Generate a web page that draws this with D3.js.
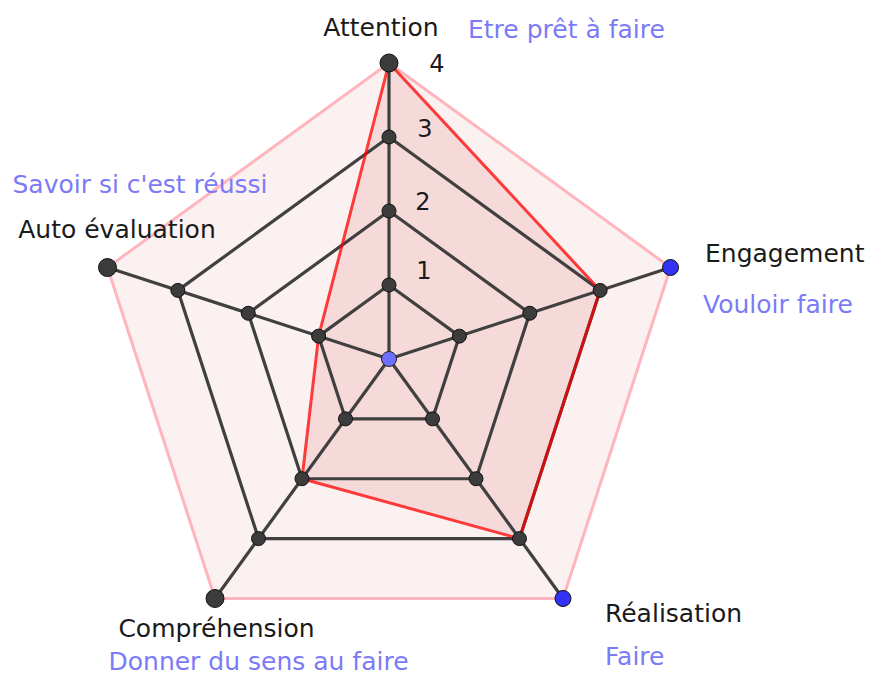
<!DOCTYPE html>
<html>
<head>
<meta charset="utf-8">
<script src="https://cdn.jsdelivr.net/npm/d3@7"></script>
<style>
  html, body { margin: 0; padding: 0; background: #ffffff; }
  svg { display: block; }
  text { font-family: "DejaVu Sans", sans-serif; }
</style>
</head>
<body>
<svg id="chart" width="869" height="679"></svg>
<script>
// ---- data ----
const axes = ["Attention", "Engagement", "Réalisation", "Compréhension", "Auto évaluation"];
const subtitles = ["Etre prêt à faire", "Vouloir faire", "Faire", "Donner du sens au faire", "Savoir si c'est réussi"];
const values = [4, 3, 3, 2, 1];
const levels = [1, 2, 3, 4];
const tickLabels = ["1", "2", "3", "4"];
const blueOuter = [false, true, true, false, false];

// ---- layout ----
const W = 869, H = 679;
const cx = 389, cy = 359;
const maxR = 296;
const r = d3.scaleLinear().domain([0, 4]).range([0, maxR]);
const angle = d3.scaleLinear().domain([0, axes.length]).range([-Math.PI / 2, 1.5 * Math.PI]);

function pt(i, v) {
  const a = angle(i);
  return [cx + r(v) * Math.cos(a), cy + r(v) * Math.sin(a)];
}

const svg = d3.select("#chart");
const line = d3.line().curve(d3.curveLinearClosed);

// outer pentagon (level 4)
svg.append("path")
  .attr("d", line(axes.map((_, i) => pt(i, 4))))
  .attr("fill", "#fbf1f1")
  .attr("stroke", "#ffb5be")
  .attr("stroke-width", 3)
  .attr("stroke-linejoin", "round");

// data area fill
svg.append("path")
  .attr("d", line(values.map((v, i) => pt(i, v))))
  .attr("fill", "#dc3c3c")
  .attr("fill-opacity", 0.13)
  .attr("stroke", "none");

// inner grid levels
svg.append("g").selectAll("path")
  .data(levels.filter(l => l < 4))
  .join("path")
  .attr("d", l => line(axes.map((_, i) => pt(i, l))))
  .attr("fill", "none")
  .attr("stroke", "#404040")
  .attr("stroke-width", 3.2)
  .attr("stroke-linejoin", "round");

// spokes
svg.append("g").selectAll("line")
  .data(axes)
  .join("line")
  .attr("x1", cx).attr("y1", cy)
  .attr("x2", (_, i) => pt(i, 4)[0])
  .attr("y2", (_, i) => pt(i, 4)[1])
  .attr("stroke", "#404040")
  .attr("stroke-width", 3.2);

// data outline
svg.append("path")
  .attr("d", line(values.map((v, i) => pt(i, v))))
  .attr("fill", "none")
  .attr("stroke", "#ff0000")
  .attr("stroke-opacity", 0.75)
  .attr("stroke-width", 3)
  .attr("stroke-linejoin", "round");

// grid points
const pts = [];
axes.forEach((_, i) => levels.forEach(l => pts.push({ i, l })));
svg.append("g").selectAll("circle")
  .data(pts)
  .join("circle")
  .attr("cx", d => pt(d.i, d.l)[0])
  .attr("cy", d => pt(d.i, d.l)[1])
  .attr("r", d => d.l === 4 ? (blueOuter[d.i] ? 8 : 9) : 7)
  .attr("fill", d => d.l === 4 && blueOuter[d.i] ? "#3333f5" : "#3c3c3c")
  .attr("stroke", "#111")
  .attr("stroke-width", 1);

// center point
svg.append("circle")
  .attr("cx", cx).attr("cy", cy).attr("r", 7.5)
  .attr("fill", "#6e6eff")
  .attr("stroke", "#222")
  .attr("stroke-width", 1);

// tick labels along the first axis
const tickOffsets = [[35, -6], [34, -1], [36, 0], [48, 9]];
svg.append("g").selectAll("text")
  .data(levels)
  .join("text")
  .attr("x", (l, k) => pt(0, l)[0] + tickOffsets[k][0])
  .attr("y", (l, k) => pt(0, l)[1] + tickOffsets[k][1])
  .attr("text-anchor", "middle")
  .attr("font-size", 24)
  .attr("fill", "#1a1a1a")
  .text((_, k) => tickLabels[k]);

// axis labels
const labelOff = [
  { a: "middle", dx: -8, dy: -27, sdx: 79, sdy: -25, sa: "start" },
  { a: "start", dx: 34.5, dy: -5.5, sdx: 32.5, sdy: 45.5, sa: "start" },
  { a: "start", dx: 42, dy: 23.5, sdx: 42, sdy: 66.5, sa: "start" },
  { a: "middle", dx: 1.5, dy: 38.5, sdx: 43.5, sdy: 72, sa: "middle" },
  { a: "middle", dx: 9.5, dy: -29.5, sdx: 32.5, sdy: -74.5, sa: "middle" }
];
const lab = svg.append("g");
axes.forEach((name, i) => {
  const [x, y] = pt(i, 4);
  const o = labelOff[i];
  lab.append("text")
    .attr("x", x + o.dx).attr("y", y + o.dy)
    .attr("text-anchor", o.a)
    .attr("font-size", 25)
    .attr("fill", "#1a1a1a")
    .text(name);
  lab.append("text")
    .attr("x", x + o.sdx).attr("y", y + o.sdy)
    .attr("text-anchor", o.sa)
    .attr("font-size", 25)
    .attr("fill", "#7b7bf7")
    .text(subtitles[i]);
});
</script>
</body>
</html>
